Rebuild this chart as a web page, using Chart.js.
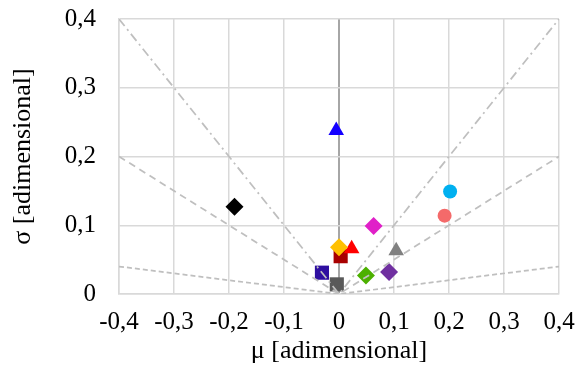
<!DOCTYPE html>
<html>

<head>
  <title>Sigma vs Mu</title>
  <script src="https://cdn.jsdelivr.net/npm/chart.js@4.4.1/dist/chart.umd.min.js"></script>
  <style>
    body { margin: 0; background: #fff; }
  </style>
</head>

<body>
  <div style="width: 578px; height: 365px">
    <canvas id="scatter-chart" width="578" height="365"></canvas>
  </div>
  <script>
    // points
    var muValues = [-0.005, -0.19, 0.0, 0.023, 0.003, -0.031, -0.004, 0.063, 0.104, 0.049, 0.091, 0.202, 0.192];
    var sigmaValues = [0.238, 0.127, 0.068, 0.066, 0.055, 0.031, 0.014, 0.099, 0.063, 0.027, 0.032, 0.149, 0.114];
    var pointShapes = ['triangle', 'rectRot', 'rectRot', 'triangle', 'rect', 'rect', 'rect', 'rectRot', 'triangle', 'rectRot', 'rectRot', 'circle', 'circle'];
    var pointColors = ['#1400FF', '#000000', '#FFC000', '#FF0000', '#A80000', '#2E0FA0', '#595959', '#E020C8', '#808080', '#4CB000', '#7030A0', '#00B0F0', '#F46A6A'];

    // guide lines through the origin
    var guideX = [-0.4, 0, 0.4];
    var guideSteep = [0.4, 0, 0.4];
    var guideMid = [0.2, 0, 0.2];
    var guideFlat = [0.04, 0, 0.04];

    var xTicks = [-0.4, -0.3, -0.2, -0.1, 0, 0.1, 0.2, 0.3, 0.4];
    var yTicks = [0, 0.1, 0.2, 0.3, 0.4];

    function toPoints(xs, ys) {
      return xs.map(function (x, i) { return { x: x, y: ys[i] }; });
    }

    function radiusFor(shape) {
      if (shape == 'rect') return 10;
      if (shape == 'triangle') return 9;
      if (shape == 'circle') return 7;
      return 9;
    }

    function commaLabel(v) {
      if (Math.abs(v) < 1e-9) return '0';
      return v.toFixed(1).replace('.', ',');
    }

    function guideLine(ys, dash) {
      return {
        type: 'line',
        data: toPoints(guideX, ys),
        borderColor: '#BFBFBF',
        borderWidth: 1.75,
        borderDash: dash,
        pointRadius: 0,
        fill: false,
        order: 0
      };
    }

    var datasets = [
      guideLine(guideSteep, [9, 4, 2, 4]),
      guideLine(guideMid, [7, 5]),
      guideLine(guideFlat, [5, 3])
    ];

    muValues.forEach(function (mu, i) {
      datasets.push({
        type: 'scatter',
        data: [{ x: mu, y: sigmaValues[i] }],
        pointStyle: pointShapes[i],
        pointRadius: radiusFor(pointShapes[i]),
        pointBackgroundColor: pointColors[i],
        pointBorderColor: pointColors[i],
        pointBorderWidth: 0,
        order: 1
      });
    });

    var tickFont = { family: 'Liberation Serif', size: 25, lineHeight: 1 };
    var titleFont = { family: 'Liberation Serif', size: 26, lineHeight: 1 };

    var chart = new Chart(document.getElementById('scatter-chart'), {
      type: 'scatter',
      data: { datasets: datasets },
      options: {
        responsive: false,
        animation: false,
        layout: { autoPadding: false, padding: { top: 19, right: 19, left: 0, bottom: 0 } },
        plugins: {
          legend: { display: false },
          tooltip: { enabled: false }
        },
        scales: {
          x: {
            min: -0.4,
            max: 0.4,
            afterBuildTicks: function (axis) {
              axis.ticks = xTicks.map(function (v) { return { value: v }; });
            },
            afterFit: function (axis) {
              axis.height = 71;
              axis.paddingLeft = 0;
              axis.paddingRight = 0;
            },
            grid: {
              color: function (ctx) {
                return ctx.tick && Math.abs(ctx.tick.value) < 1e-9 ? '#A6A6A6' : '#D9D9D9';
              },
              lineWidth: function (ctx) {
                return ctx.tick && Math.abs(ctx.tick.value) < 1e-9 ? 2 : 1.5;
              },
              drawTicks: false
            },
            border: { color: '#D9D9D9', width: 1.5 },
            ticks: {
              color: '#000',
              padding: 16,
              maxRotation: 0,
              font: tickFont,
              callback: function (v) { return commaLabel(v); }
            },
            title: {
              display: true,
              text: 'μ [adimensional]',
              color: '#000',
              padding: { top: 0, bottom: 1 },
              font: titleFont
            }
          },
          y: {
            min: 0,
            max: 0.4,
            afterBuildTicks: function (axis) {
              axis.ticks = yTicks.map(function (v) { return { value: v }; });
            },
            afterFit: function (axis) {
              axis.width = 119;
              axis.paddingTop = 0;
              axis.paddingBottom = 0;
            },
            grid: { color: '#D9D9D9', lineWidth: 1.5, drawTicks: false },
            border: { color: '#D9D9D9', width: 1.5 },
            ticks: {
              color: '#000',
              padding: 23,
              font: tickFont,
              callback: function (v) { return commaLabel(v); }
            },
            title: {
              display: true,
              text: 'σ [adimensional]',
              color: '#000',
              padding: { top: 10, bottom: 0 },
              font: titleFont
            }
          }
        }
      }
    });
  </script>
</body>

</html>
